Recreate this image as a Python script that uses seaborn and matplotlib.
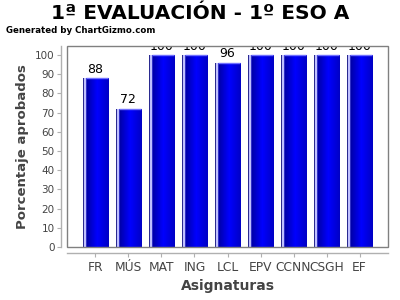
import matplotlib
matplotlib.use("Agg")
import matplotlib.pyplot as plt
import seaborn as sns
import numpy as np
import pandas as pd
from matplotlib.patches import Rectangle

subjects = ["FR", "MÚS", "MAT", "ING", "LCL", "EPV", "CCNN", "CSGH", "EF"]
values = [88, 72, 100, 100, 96, 100, 100, 100, 100]
y_ticks = [0, 10, 20, 30, 40, 50, 60, 70, 80, 90, 100]

sns.set_theme(style="white")
plt.rcParams['font.family'] = ['DejaVu Sans']

df = pd.DataFrame({"Asignatura": subjects, "Valor": values})

fig = plt.figure(figsize=(4, 3), dpi=100)
ax = fig.add_axes([0.1675, 0.1767, 0.8025, 0.67])
sns.barplot(data=df, x="Asignatura", y="Valor", color="#0000e0", width=0.76,
            saturation=1, ax=ax, zorder=2, linewidth=0, edgecolor='none')

# gradient fill for bars
N = 200
f = np.linspace(0, 1, N)
cols = np.zeros((1, N, 3))
def hexrgb(h):
    h = h.lstrip('#')
    return np.array([int(h[i:i+2], 16) / 255 for i in (0, 2, 4)])
c_edge = hexrgb('#2a2a90')
c_light = hexrgb('#c0c0ff')
c_dark = hexrgb('#0000a8')
c_bright = hexrgb('#0000ff')
c_right = hexrgb('#0000c4')
for i, t in enumerate(f):
    if t < 0.04:
        c = c_edge
    elif t < 0.11:
        c = c_light
    elif t < 0.15:
        c = hexrgb('#3030c8')
    elif t < 0.55:
        u = (t - 0.15) / 0.40
        c = c_dark * (1 - u) + c_bright * u
    else:
        u = (t - 0.55) / 0.45
        c = c_bright * (1 - u) + c_right * u
    cols[0, i] = c

for p in ax.patches:
    x0, y0 = p.get_x(), p.get_y()
    w, h = p.get_width(), p.get_height()
    im = ax.imshow(cols, extent=[x0, x0 + w, y0, y0 + h], aspect='auto',
                   zorder=3, interpolation='nearest')
    im.set_clip_path(p)
    ax.plot([x0 + 0.11 * w, x0 + w], [y0 + h, y0 + h], color='#7070ff', lw=1, zorder=4,
            solid_capstyle='butt')
    ax.text(x0 + w / 2, y0 + h + 1.2, f"{int(h)}", ha='center', va='bottom',
            fontsize=9, color='black', zorder=5, clip_on=True)

ax.set_xlim(-0.86, len(subjects) - 1 + 0.86)
ax.set_ylim(0, 104.7)
ax.set_yticks(y_ticks)

for s in ['top', 'right']:
    ax.spines[s].set_visible(False)
for s in ['left', 'bottom']:
    ax.spines[s].set_position(('outward', 4))
    ax.spines[s].set_color('#b0b0b0')
    ax.spines[s].set_linewidth(1)
ax.add_patch(Rectangle((0, 0), 1, 1, transform=ax.transAxes, fill=False,
                       edgecolor='#808080', lw=1, clip_on=False, zorder=6))

ax.tick_params(axis='both', which='major', length=3, width=0.8, color='#b0b0b0',
               labelcolor='#444444', pad=2, left=True, bottom=True)
ax.tick_params(axis='y', labelsize=7.5)
ax.tick_params(axis='x', labelsize=8.8, pad=3)
ax.set_xlabel("Asignaturas", fontsize=10, fontweight='bold', color='#444444', labelpad=4)
ax.set_ylabel("Porcentaje aprobados", fontsize=9.5, fontweight='bold', color='#444444', labelpad=4)

fig.text(0.5, 0.955, "1ª EVALUACIÓN - 1º ESO A", ha='center', va='center',
         fontsize=14.5, fontweight='bold', color='black')
fig.text(0.015, 0.897, "Generated by ChartGizmo.com", ha='left', va='center',
         fontsize=6.2, fontweight='bold', color='black')

fig.savefig("out.png", dpi=100)
